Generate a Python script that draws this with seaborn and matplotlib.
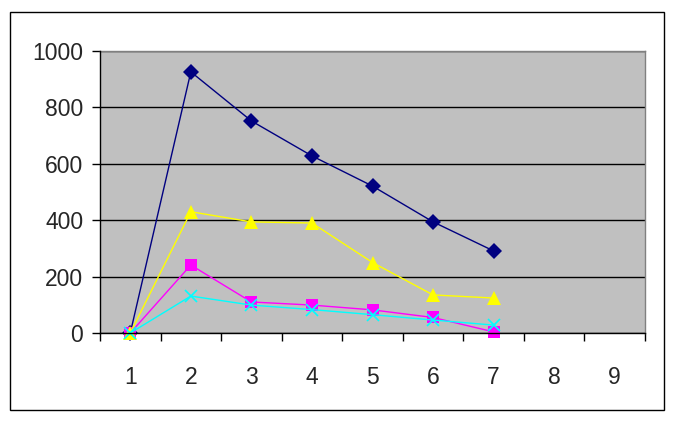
import numpy as np
import pandas as pd
import matplotlib
matplotlib.use("Agg")
import matplotlib.pyplot as plt
import seaborn as sns
from matplotlib.patches import Rectangle

# ---- data ----
categories = [1, 2, 3, 4, 5, 6, 7]
series1 = [0, 926, 752, 628, 521, 394, 291]   # navy diamonds
series2 = [0, 241, 110, 99, 82, 55, 4]        # magenta squares
series3 = [0, 430, 394, 390, 250, 135, 124]   # yellow triangles
series4 = [0, 131, 99, 83, 65, 46, 28]        # cyan crosses
x_labels = ["1", "2", "3", "4", "5", "6", "7", "8", "9"]
y_ticks = [0, 200, 400, 600, 800, 1000]

sns.set_style("white")
plt.rcParams["font.family"] = ["Liberation Sans", "DejaVu Sans"]

fig = plt.figure(figsize=(6.73, 4.23), dpi=100)
ax = fig.add_axes([100 / 673, 90 / 423, 545 / 673, 282 / 423])
ax.set_facecolor("#C0C0C0")

styles = [
    (series1, "#000080", "D", 8),
    (series2, "#FF00FF", "s", 9),
    (series3, "#FFFF00", "^", 10),
    (series4, "#00FFFF", "x", 8),
]
for vals, col, mk, ms in styles:
    sns.lineplot(x=categories, y=vals, color=col, marker=mk, markersize=ms,
                 markeredgecolor=col, markeredgewidth=1.2 if mk == "x" else 0,
                 linewidth=1, ax=ax, zorder=3, clip_on=False)

ax.set_xlim(0.5, 9.5)
ax.set_ylim(0, 1000)
ax.set_yticks(y_ticks)
ax.set_yticklabels([str(v) for v in y_ticks], fontsize=16.5)
ax.yaxis.grid(True, color="black", linewidth=1, zorder=1)
ax.set_axisbelow(True)

# category ticks between categories, labels centred on categories
ax.set_xticks(np.arange(0.5, 10.0, 1.0))
ax.set_xticklabels([])
ax.set_xticks(np.arange(1, 10), minor=True)
ax.set_xticklabels(x_labels, minor=True, fontsize=16.5)
ax.tick_params(axis="x", which="major", direction="out", length=6, width=1,
               color="black", bottom=True)
ax.tick_params(axis="x", which="minor", length=0, pad=24, bottom=True)
ax.tick_params(axis="y", direction="out", length=6, width=1, color="black",
               pad=6, left=True)

for side in ["top", "right"]:
    ax.spines[side].set_color("#808080")
    ax.spines[side].set_linewidth(1)
for side in ["left", "bottom"]:
    ax.spines[side].set_color("black")
    ax.spines[side].set_linewidth(1)
    ax.spines[side].set_zorder(4)

# outer chart border
fig.patches.append(Rectangle((10 / 673, 13 / 423), 654 / 673, 398 / 423,
                             transform=fig.transFigure, fill=False,
                             edgecolor="black", linewidth=1))

fig.savefig("out.png", dpi=100)
